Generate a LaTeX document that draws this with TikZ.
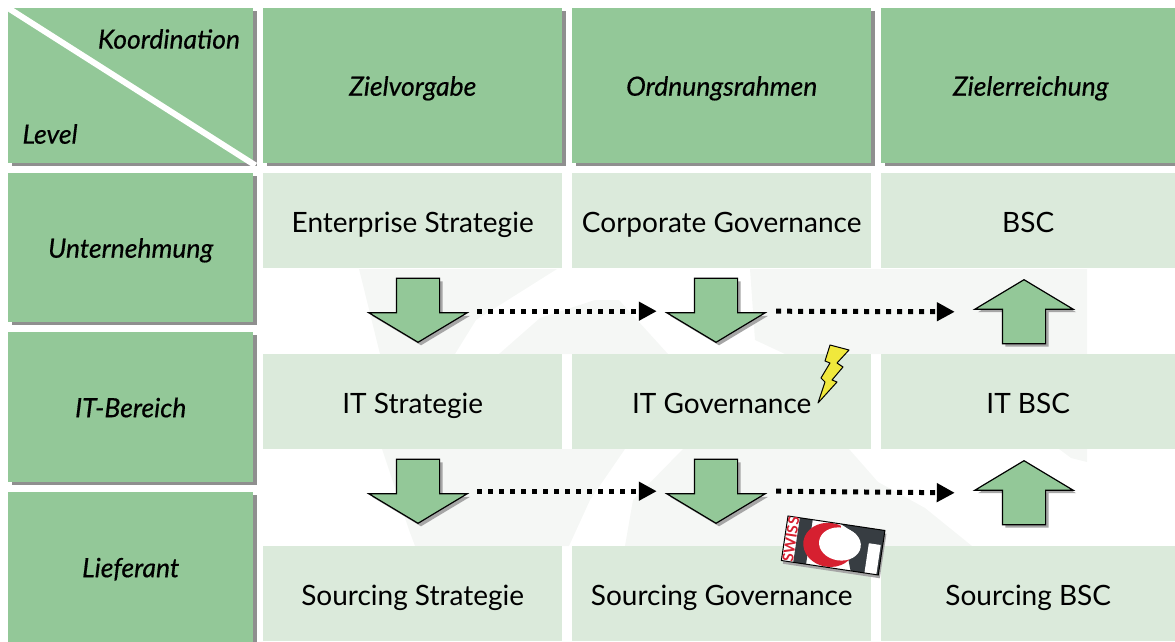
\documentclass[tikz,border=0pt]{standalone}
\usepackage{fontspec}
\setmainfont{Lato}
\newfontfamily\headfont{Lato}[FakeBold=0.5]
\usetikzlibrary{shapes.arrows,shadows,arrows.meta}
\definecolor{headgreen}{RGB}{147,200,152}
\definecolor{cellgreen}{RGB}{219,234,219}
\definecolor{shadowgray}{RGB}{143,143,143}
\definecolor{markgray}{RGB}{245,247,245}
\definecolor{boltyellow}{RGB}{240,232,60}
\definecolor{logored}{RGB}{214,32,48}
\definecolor{logodark}{RGB}{55,61,66}
\tikzset{
	headtext/.style={font=\fontsize{26.5}{30}\selectfont\headfont\itshape},
	headbox/.style={anchor=north west,fill=headgreen,inner sep=0pt,align=center,headtext,text height=20pt,text depth=0pt,
		general shadow={shadow xshift=4pt,shadow yshift=-3pt,fill=shadowgray}},
	cellbox/.style={anchor=north west,fill=cellgreen,inner sep=0pt,align=center,font=\fontsize{28}{32}\selectfont,
		text height=23pt,text depth=0pt,minimum height=95pt},
	blockarrow/.style={single arrow,draw=black,line width=1.2pt,fill=headgreen,anchor=tip,inner xsep=21pt,inner ysep=0pt,
		minimum height=64pt,minimum width=97pt,single arrow head extend=27.5pt,single arrow tip angle=118,
		general shadow={shadow xshift=3pt,shadow yshift=-3pt,fill=gray!70}},
	downarrow/.style={blockarrow,shape border rotate=270},
	uparrow/.style={blockarrow,shape border rotate=90},
	flowline/.style={-{Triangle[length=18pt,width=18pt]},line width=5pt,dash pattern=on 5pt off 6pt}
}
\begin{document}
\begin{tikzpicture}[x=1pt,y=-1pt]
	\useasboundingbox (0,0) rectangle (1175,642);
	% faint logo behind the grid
	\fill[markgray] (359,269) -- (557,269) -- (476,320) -- (455,354) -- (380,354) -- cycle;
	\fill[markgray] (499,354) -- (540,318) -- (595,300) -- (619,300) -- (668,354) -- cycle;
	\fill[markgray] (750,269) -- (1087,269) -- (1087,354) -- (785,354) -- (755,340) -- cycle;
	\fill[markgray] (382,449) -- (625,449) -- (590,500) -- (569,546) -- (415,546) -- (409,530) -- cycle;
	\fill[markgray] (683,449) -- (849,449) -- (878,482) -- (925,508) -- (972,546) -- (625,546) -- (633,500) -- cycle;
	\fill[markgray] (1059,449) -- (1087,449) -- (1087,462) -- (1071,458) -- cycle;

	\node[headbox,minimum width=245pt,minimum height=155pt] (corner) at (8,8) {};
	\node[headbox,minimum width=299pt,minimum height=155pt] (headA) at (263,8) {Zielvorgabe};
	\node[headbox,minimum width=299pt,minimum height=155pt] (headB) at (572,8) {Ordnungsrahmen};
	\node[headbox,minimum width=299pt,minimum height=155pt] (headC) at (881,8) {Zielerreichung};
	\draw[white,line width=6pt] (corner.north west) -- ([shift={(2pt,-2pt)}]corner.south east);
	\node[headtext] (koord) at (169,39) {Koordination};
	\node[headtext] (level) at (50,134) {Level};

	\node[headbox,minimum width=245pt,minimum height=149pt] (rowA) at (8,173) {Unternehmung};
	\node[headbox,minimum width=245pt,minimum height=150pt] (rowB) at (8,332) {IT-Bereich};
	\node[headbox,minimum width=245pt,minimum height=150pt] (rowC) at (8,492) {Lieferant};

	\node[cellbox,minimum width=299pt] (cellA1) at (263,173) {Enterprise Strategie};
	\node[cellbox,minimum width=299pt] (cellB1) at (572,173) {Corporate Governance};
	\node[cellbox,minimum width=294pt] (cellC1) at (881,173) {BSC};
	\node[cellbox,minimum width=299pt] (cellA2) at (263,354) {IT Strategie};
	\node[cellbox,minimum width=299pt] (cellB2) at (572,354) {IT Governance};
	\node[cellbox,minimum width=294pt] (cellC2) at (881,354) {IT BSC};
	\node[cellbox,minimum width=299pt] (cellA3) at (263,546) {Sourcing Strategie};
	\node[cellbox,minimum width=299pt] (cellB3) at (572,546) {Sourcing Governance};
	\node[cellbox,minimum width=294pt] (cellC3) at (881,546) {Sourcing BSC};

	\node[downarrow] (arrowA1) at (418,343) {};
	\node[downarrow] (arrowB1) at (716,343) {};
	\node[uparrow] (arrowC1) at (1024,279) {};
	\node[downarrow] (arrowA2) at (418,524) {};
	\node[downarrow] (arrowB2) at (716,524) {};
	\node[uparrow] (arrowC2) at (1024,460) {};

	\draw[flowline] ([shift={(37pt,1pt)}]arrowA1.before head) -- ([shift={(-37pt,1pt)}]arrowB1.after head);
	\draw[flowline] ([shift={(38pt,1pt)}]arrowB1.before head) -- ([shift={(-47pt,-2pt)}]arrowC1.before head);
	\draw[flowline] ([shift={(37pt,2pt)}]arrowA2.before head) -- ([shift={(-37pt,2pt)}]arrowB2.after head);
	\draw[flowline] ([shift={(38pt,2pt)}]arrowB2.before head) -- ([shift={(-47pt,-2pt)}]arrowC2.before head);

	% lightning
	\draw[fill=boltyellow,line width=1pt,line join=round] (830,345) -- (849,350) -- (837,363) -- (843,367) -- (832,380) -- (837,382) -- (818,403) -- (825,382) -- (821,378) -- (830,363) -- (825,361) -- cycle;

	% logo
	\begin{scope}[shift={(788,516)},rotate=-8.5]
		\fill[gray!70] (2,3) rectangle (100,48);
		\fill[white] (0,0) rectangle (98,45);
		\fill[logodark] (12,0) rectangle (25,45);
		\fill[logodark] (54,0) -- (98,0) -- (98,45) -- (70,45) -- cycle;
		\fill[white] (84,15) rectangle (96,45);
		\fill[logored] (45,22.5) ellipse (26 and 22);
		\fill[white] (55.5,20) ellipse (21 and 16.5);
		\fill[white] (54,0.5) -- (54,18) -- (70,8) -- cycle;
		\draw[line width=1pt] (0,0) rectangle (98,45);
		\node[rotate=81.5,text=logored,font=\fontsize{15}{15}\selectfont\bfseries,inner sep=0pt] (swiss) at (6.2,22.5) {SWISS};
	\end{scope}
\end{tikzpicture}
\end{document}
